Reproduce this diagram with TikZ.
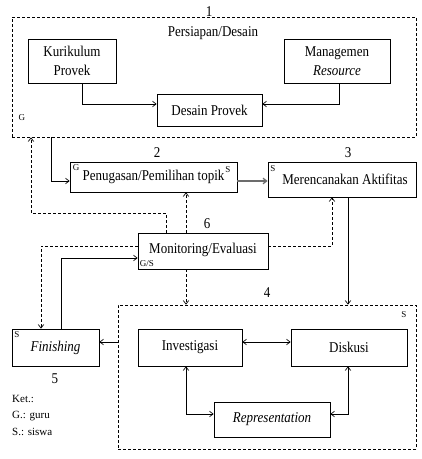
\documentclass[tikz,border=0pt]{standalone}
\usepackage{fontspec}
\usepackage{graphicx}
\setmainfont{Liberation Serif}
\usetikzlibrary{arrows.meta,calc}
\newcommand{\vs}[1]{\scalebox{1}[1.15]{#1}}
\begin{document}
\begin{tikzpicture}[x=1pt,y=-1pt,
  >={Straight Barb[length=3.5pt,width=5.5pt]},
  box/.style={draw,line width=0.8pt,inner sep=0pt,font=\fontsize{13}{19}\selectfont,align=center},
  grp/.style={draw,line width=0.8pt,dash pattern=on 3pt off 2pt,inner sep=0pt},
  arr/.style={->,line width=0.7pt},
  darr/.style={->,line width=0.7pt,dash pattern=on 3pt off 2pt},
  barr/.style={<->,line width=0.7pt},
  num/.style={font=\fontsize{13}{15}\selectfont,inner sep=0pt},
  tag/.style={font=\fontsize{9}{10}\selectfont,inner sep=0pt},
  ket/.style={font=\fontsize{11}{13}\selectfont,inner sep=0pt,anchor=west}]
\useasboundingbox (0,0) rectangle (422,459);
\fill[white] (0,0) rectangle (422,459);
% groups
\node[grp,minimum width=404pt,minimum height=120pt] (g1) at (214,77) {};
\node[grp,minimum width=298pt,minimum height=144pt] (g4) at (267,377) {};
% boxes
\node[box,minimum width=88pt,minimum height=44pt] (kur) at (72,61) {\vs{Kurikulum}\\\vs{Provek}};
\node[box,minimum width=106pt,minimum height=44pt] (mgr) at (337,61) {\vs{Managemen}\\\vs{\textit{Resource}}};
\node[box,minimum width=105pt,minimum height=32pt] (des) at (209.5,110) {\vs{Desain Provek}};
\node[box,minimum width=167pt,minimum height=30pt] (pen) at (153.5,177) {\vs{Penugasan/Pemilihan topik}};
\node[box,minimum width=148pt,minimum height=35pt] (mer) at (342,179.5) {\hspace{6pt}\vs{Merencanakan Aktifitas}};
\node[box,minimum width=130pt,minimum height=36pt,text depth=5pt] (mon) at (203,251) {\vs{Monitoring/Evaluasi}};
\node[box,minimum width=87pt,minimum height=37pt] (fin) at (55.5,347.5) {\vs{\textit{Finishing}}};
\node[box,minimum width=104pt,minimum height=37pt] (inv) at (190,347.5) {\vs{Investigasi}};
\node[box,minimum width=116pt,minimum height=37pt] (dis) at (349,347.5) {\vs{Diskusi}};
\node[box,minimum width=116pt,minimum height=35pt] (rep) at (272,419.5) {\vs{\textit{Representation}}};
% labels
\node[num] (n1) at (209,12) {\vs{1}};
\node[num] (t1) at (213,33) {\vs{Persiapan/Desain}};
\node[num] (n2) at (157,153) {\vs{2}};
\node[num] (n3) at (348,153) {\vs{3}};
\node[num] (n6) at (207,224) {\vs{6}};
\node[num] (n4) at (267,293) {\vs{4}};
\node[num] (n5) at (55,379) {\vs{5}};
\node[tag] (tg1) at (22,118) {G};
\node[tag] (tg2) at (76,168) {G};
\node[tag] (ts2) at (228,170) {S};
\node[tag] (ts3) at (273,169) {S};
\node[tag] (tgs) at (147,264) {G/S};
\node[tag] (ts4) at (404,315) {S};
\node[tag] (ts5) at (17,335) {S};
\node[ket] (k1) at (12,399) {Ket.:};
\node[ket] (k2) at (12,416) {G.: guru};
\node[ket] (k3) at (12,432) {S.: siswa};
% connectors
\draw[arr] (kur.south) ++(10,0) |- (des.west |- 0,104);
\draw[arr] (mgr.south) ++(2,0) |- (des.east |- 0,104);
\draw[arr] (g1.south -| 51,0) |- (pen.west |- 0,181);
\draw[->,line width=1.3pt,gray!85!black] (pen.east |- 0,181) -- (mer.west |- 0,181);
\coordinate (c1) at (31,213);
\draw[darr] (mon.north -| 166,0) |- (c1) -- (g1.south -| c1);
\draw[darr] (mon.north -| 186,0) -- (pen.south -| 186,0);
\draw[darr] (mon.east |- 0,246) -| (mer.south -| 332,0);
\draw[darr] (mon.west |- 0,246) -| (fin.north -| 41,0);
\draw[arr] (fin.north -| 61,0) |- (mon.west |- 0,258);
\draw[darr] (mon.south -| 186,0) -- (g4.north -| 186,0);
\draw[arr] (mer.south -| 348,0) -- (g4.north -| 348,0);
\draw[arr] (g4.west |- 0,342) -- (fin.east |- 0,342);
\draw[barr] (inv.east |- 0,342) -- (dis.west |- 0,342);
\draw[barr] (inv.south -| 186,0) |- (rep.west |- 0,414);
\draw[barr] (dis.south -| 348,0) |- (rep.east |- 0,414);
\end{tikzpicture}
\end{document}
